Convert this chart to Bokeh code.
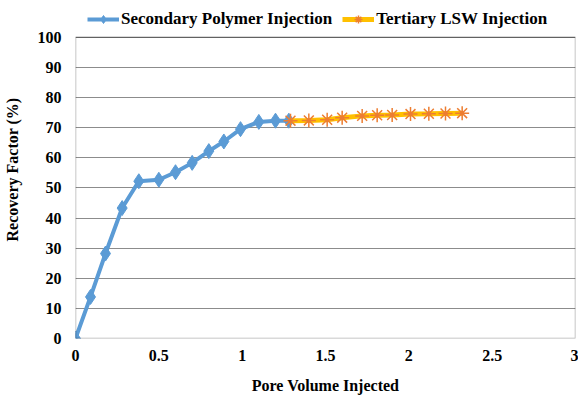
from bokeh.plotting import figure
from bokeh.embed import file_html
from bokeh.resources import INLINE
from bokeh.models import FixedTicker, Legend, LegendItem, Range1d, BoxAnnotation

# Data
sec_pv = [0.0, 0.09, 0.18, 0.28, 0.38, 0.50, 0.60, 0.70, 0.80, 0.89, 0.99, 1.10, 1.20, 1.28]
sec_rf = [0.0, 13.8, 28.2, 43.3, 52.2, 52.7, 55.2, 58.3, 62.2, 65.4, 69.5, 71.9, 72.3, 72.3]
ter_pv = [1.29, 1.40, 1.51, 1.60, 1.72, 1.81, 1.90, 2.01, 2.12, 2.22, 2.32]
ter_rf = [72.3, 72.4, 72.6, 73.3, 73.9, 74.1, 74.2, 74.5, 74.6, 74.7, 74.8]
x_ticks = [0, 0.5, 1, 1.5, 2, 2.5, 3]
x_tick_labels = ["0", "0.5", "1", "1.5", "2", "2.5", "3"]
y_ticks = [0, 10, 20, 30, 40, 50, 60, 70, 80, 90, 100]

FONT = "Liberation Serif"

# extra headroom above 100 holds the legend
p = figure(width=578, height=396, output_backend="svg", toolbar_location=None,
           x_range=Range1d(x_ticks[0], x_ticks[-1]), y_range=Range1d(0, 112.2),
           min_border_left=75, min_border_right=3, min_border_top=0, min_border_bottom=55)

p.outline_line_color = None
p.xgrid.grid_line_color = None
p.ygrid.grid_line_color = "#8c8c8c"
p.ygrid.grid_line_width = 1.2

frame_box = BoxAnnotation(left=x_ticks[0], right=x_ticks[-1], bottom=y_ticks[0], top=y_ticks[-1],
                          fill_alpha=0, line_color="black", line_width=1.5)
p.add_layout(frame_box)

p.xaxis.ticker = FixedTicker(ticks=x_ticks)
p.xaxis.major_label_overrides = {t: l for t, l in zip(x_ticks, x_tick_labels)}
p.yaxis.ticker = FixedTicker(ticks=y_ticks)

for ax in (p.xaxis[0], p.yaxis[0]):
    ax.axis_line_color = None
    ax.major_tick_line_color = None
    ax.minor_tick_line_color = None
    ax.major_label_text_font = FONT
    ax.major_label_text_font_style = "bold"
    ax.major_label_text_font_size = "16px"
    ax.major_label_text_color = "black"
    ax.axis_label_text_font = FONT
    ax.axis_label_text_font_style = "bold"
    ax.axis_label_text_font_size = "16px"
    ax.axis_label_text_color = "black"

p.xaxis.axis_label = "Pore Volume Injected"
p.yaxis.axis_label = "Recovery Factor (%)"
p.xaxis.major_label_standoff = 5
p.yaxis.major_label_standoff = 8
p.xaxis.axis_label_standoff = 13
p.yaxis.axis_label_standoff = 14

blue = "#5B9BD5"
r1l = p.line(sec_pv, sec_rf, line_color=blue, line_width=4)
r1m = p.scatter(sec_pv, sec_rf, marker="diamond", size=15, fill_color=blue, line_color=blue)
r2l = p.line(ter_pv, ter_rf, line_color="#FFC000", line_width=5)
r2m = p.scatter(ter_pv, ter_rf, marker="asterisk", size=14, line_color="#ED7D31", line_width=1.5)

legend = Legend(items=[LegendItem(label="Secondary Polymer Injection", renderers=[r1l, r1m]),
                       LegendItem(label="Tertiary LSW Injection", renderers=[r2l, r2m])],
                orientation="horizontal", location=(12, 309),
                label_text_font=FONT, label_text_font_style="bold", label_text_font_size="17px",
                label_text_color="black", border_line_color=None, background_fill_alpha=0,
                glyph_width=32, glyph_height=20, spacing=10, padding=2, label_standoff=2,
                margin=0)
p.add_layout(legend, "center")

open("out.html", "w").write(file_html(p, INLINE))
